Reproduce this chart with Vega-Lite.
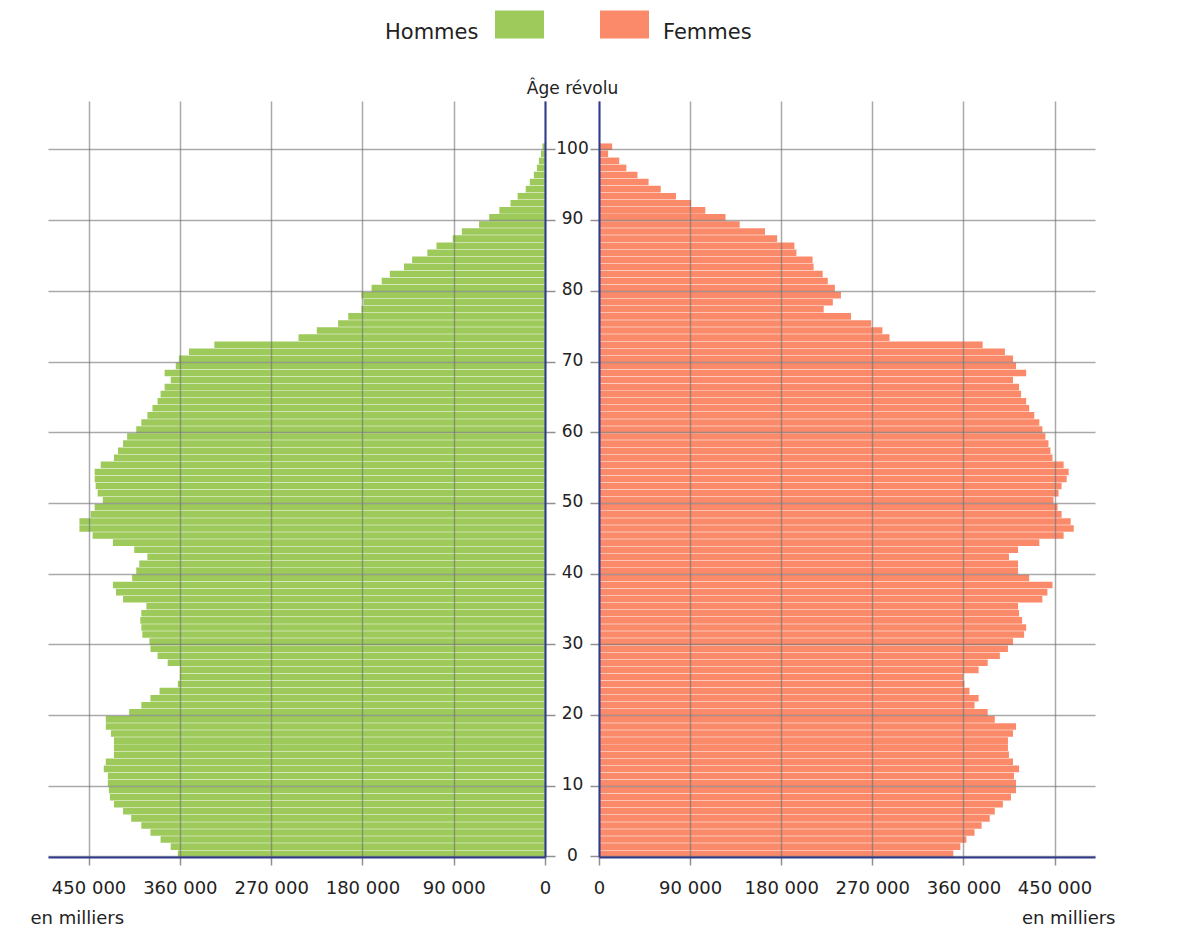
{
  "$schema": "https://vega.github.io/schema/vega-lite/v6.json",
  "background": "white",
  "padding": {"left": 30, "top": 0, "right": 0, "bottom": 0},
  "config": {
    "view": {"stroke": null},
    "font": "DejaVu Sans",
    "axis": {"labelColor": "#222222", "titleColor": "#222222", "labelFont": "DejaVu Sans", "titleFont": "DejaVu Sans"},
    "legend": {"labelColor": "#222222", "titleColor": "#222222", "labelFont": "DejaVu Sans", "titleFont": "DejaVu Sans"}
  },
  "datasets": {
    "hommes": [
      {"age": 0, "pop": 362000}, {"age": 1, "pop": 369000}, {"age": 2, "pop": 379000}, {"age": 3, "pop": 389000}, {"age": 4, "pop": 398000},
      {"age": 5, "pop": 408000}, {"age": 6, "pop": 416000}, {"age": 7, "pop": 425000}, {"age": 8, "pop": 429000}, {"age": 9, "pop": 430000},
      {"age": 10, "pop": 431000}, {"age": 11, "pop": 431000}, {"age": 12, "pop": 435000}, {"age": 13, "pop": 433000}, {"age": 14, "pop": 425000},
      {"age": 15, "pop": 425000}, {"age": 16, "pop": 425000}, {"age": 17, "pop": 428000}, {"age": 18, "pop": 433000}, {"age": 19, "pop": 433000},
      {"age": 20, "pop": 410000}, {"age": 21, "pop": 398000}, {"age": 22, "pop": 389000}, {"age": 23, "pop": 380000}, {"age": 24, "pop": 362000},
      {"age": 25, "pop": 360000}, {"age": 26, "pop": 360000}, {"age": 27, "pop": 372000}, {"age": 28, "pop": 382000}, {"age": 29, "pop": 389000},
      {"age": 30, "pop": 390000}, {"age": 31, "pop": 397000}, {"age": 32, "pop": 398000}, {"age": 33, "pop": 399000}, {"age": 34, "pop": 398000},
      {"age": 35, "pop": 393000}, {"age": 36, "pop": 416000}, {"age": 37, "pop": 423000}, {"age": 38, "pop": 426000}, {"age": 39, "pop": 407000},
      {"age": 40, "pop": 403000}, {"age": 41, "pop": 400000}, {"age": 42, "pop": 392000}, {"age": 43, "pop": 405000}, {"age": 44, "pop": 426000},
      {"age": 45, "pop": 446000}, {"age": 46, "pop": 459000}, {"age": 47, "pop": 459000}, {"age": 48, "pop": 448000}, {"age": 49, "pop": 444000},
      {"age": 50, "pop": 436000}, {"age": 51, "pop": 441000}, {"age": 52, "pop": 443000}, {"age": 53, "pop": 444000}, {"age": 54, "pop": 444000},
      {"age": 55, "pop": 438000}, {"age": 56, "pop": 425000}, {"age": 57, "pop": 421000}, {"age": 58, "pop": 416000}, {"age": 59, "pop": 412000},
      {"age": 60, "pop": 403000}, {"age": 61, "pop": 398000}, {"age": 62, "pop": 392000}, {"age": 63, "pop": 387000}, {"age": 64, "pop": 382000},
      {"age": 65, "pop": 379000}, {"age": 66, "pop": 375000}, {"age": 67, "pop": 369000}, {"age": 68, "pop": 375000}, {"age": 69, "pop": 364000},
      {"age": 70, "pop": 361000}, {"age": 71, "pop": 351000}, {"age": 72, "pop": 326000}, {"age": 73, "pop": 243000}, {"age": 74, "pop": 225000},
      {"age": 75, "pop": 204000}, {"age": 76, "pop": 194000}, {"age": 77, "pop": 181000}, {"age": 78, "pop": 179000}, {"age": 79, "pop": 181000},
      {"age": 80, "pop": 171000}, {"age": 81, "pop": 161000}, {"age": 82, "pop": 153000}, {"age": 83, "pop": 139000}, {"age": 84, "pop": 131000},
      {"age": 85, "pop": 116000}, {"age": 86, "pop": 107000}, {"age": 87, "pop": 91000}, {"age": 88, "pop": 82000}, {"age": 89, "pop": 65000},
      {"age": 90, "pop": 55000}, {"age": 91, "pop": 45000}, {"age": 92, "pop": 34000}, {"age": 93, "pop": 27000}, {"age": 94, "pop": 19000},
      {"age": 95, "pop": 15000}, {"age": 96, "pop": 11000}, {"age": 97, "pop": 8000}, {"age": 98, "pop": 6000}, {"age": 99, "pop": 4000},
      {"age": 100, "pop": 2500}
    ],
    "femmes": [
      {"age": 0, "pop": 350000}, {"age": 1, "pop": 357000}, {"age": 2, "pop": 363000}, {"age": 3, "pop": 371000}, {"age": 4, "pop": 378000},
      {"age": 5, "pop": 386000}, {"age": 6, "pop": 391000}, {"age": 7, "pop": 399000}, {"age": 8, "pop": 407000}, {"age": 9, "pop": 412000},
      {"age": 10, "pop": 412000}, {"age": 11, "pop": 410000}, {"age": 12, "pop": 415000}, {"age": 13, "pop": 409000}, {"age": 14, "pop": 405000},
      {"age": 15, "pop": 404000}, {"age": 16, "pop": 404000}, {"age": 17, "pop": 409000}, {"age": 18, "pop": 412000}, {"age": 19, "pop": 391000},
      {"age": 20, "pop": 384000}, {"age": 21, "pop": 371000}, {"age": 22, "pop": 375000}, {"age": 23, "pop": 366000}, {"age": 24, "pop": 361000},
      {"age": 25, "pop": 360000}, {"age": 26, "pop": 375000}, {"age": 27, "pop": 384000}, {"age": 28, "pop": 396000}, {"age": 29, "pop": 404000},
      {"age": 30, "pop": 409000}, {"age": 31, "pop": 420000}, {"age": 32, "pop": 422000}, {"age": 33, "pop": 418000}, {"age": 34, "pop": 415000},
      {"age": 35, "pop": 414000}, {"age": 36, "pop": 438000}, {"age": 37, "pop": 443000}, {"age": 38, "pop": 448000}, {"age": 39, "pop": 425000},
      {"age": 40, "pop": 414000}, {"age": 41, "pop": 414000}, {"age": 42, "pop": 405000}, {"age": 43, "pop": 414000}, {"age": 44, "pop": 435000},
      {"age": 45, "pop": 459000}, {"age": 46, "pop": 469000}, {"age": 47, "pop": 466000}, {"age": 48, "pop": 457000}, {"age": 49, "pop": 453000},
      {"age": 50, "pop": 449000}, {"age": 51, "pop": 454000}, {"age": 52, "pop": 457000}, {"age": 53, "pop": 462000}, {"age": 54, "pop": 464000},
      {"age": 55, "pop": 459000}, {"age": 56, "pop": 448000}, {"age": 57, "pop": 446000}, {"age": 58, "pop": 444000}, {"age": 59, "pop": 441000},
      {"age": 60, "pop": 438000}, {"age": 61, "pop": 435000}, {"age": 62, "pop": 430000}, {"age": 63, "pop": 425000}, {"age": 64, "pop": 422000},
      {"age": 65, "pop": 417000}, {"age": 66, "pop": 415000}, {"age": 67, "pop": 409000}, {"age": 68, "pop": 422000}, {"age": 69, "pop": 412000},
      {"age": 70, "pop": 409000}, {"age": 71, "pop": 401000}, {"age": 72, "pop": 379000}, {"age": 73, "pop": 287000}, {"age": 74, "pop": 280000},
      {"age": 75, "pop": 269000}, {"age": 76, "pop": 249000}, {"age": 77, "pop": 222000}, {"age": 78, "pop": 231000}, {"age": 79, "pop": 239000},
      {"age": 80, "pop": 233000}, {"age": 81, "pop": 226000}, {"age": 82, "pop": 221000}, {"age": 83, "pop": 212000}, {"age": 84, "pop": 211000},
      {"age": 85, "pop": 195000}, {"age": 86, "pop": 193000}, {"age": 87, "pop": 176000}, {"age": 88, "pop": 164000}, {"age": 89, "pop": 139000},
      {"age": 90, "pop": 125000}, {"age": 91, "pop": 105000}, {"age": 92, "pop": 91000}, {"age": 93, "pop": 76000}, {"age": 94, "pop": 61000},
      {"age": 95, "pop": 49000}, {"age": 96, "pop": 38000}, {"age": 97, "pop": 27000}, {"age": 98, "pop": 20000}, {"age": 99, "pop": 9000},
      {"age": 100, "pop": 13000}
    ]
  },
  "bounds": "flush",
  "spacing": 54,
  "resolve": {"scale": {"color": "independent", "x": "independent", "y": "independent"}, "legend": {"color": "independent"}},
  "hconcat": [
    {
      "width": 497,
      "height": 756,
      "data": {"name": "hommes"},
      "mark": {"type": "bar"},
      "encoding": {
        "y": {
          "field": "age", "type": "ordinal",
          "scale": {"domain": [106,105,104,103,102,101,100,99,98,97,96,95,94,93,92,91,90,89,88,87,86,85,84,83,82,81,80,79,78,77,76,75,74,73,72,71,70,69,68,67,66,65,64,63,62,61,60,59,58,57,56,55,54,53,52,51,50,49,48,47,46,45,44,43,42,41,40,39,38,37,36,35,34,33,32,31,30,29,28,27,26,25,24,23,22,21,20,19,18,17,16,15,14,13,12,11,10,9,8,7,6,5,4,3,2,1,0], "paddingInner": 0.07, "paddingOuter": 0},
          "axis": {
            "orient": "right", "values": [0,10,20,30,40,50,60,70,80,90,100], "bandPosition": 1,
            "grid": true, "gridColor": "#707070", "gridOpacity": 0.6, "gridWidth": 1.5,
            "ticks": true, "tickSize": 10, "tickColor": "#909090", "tickWidth": 1.5,
            "labelAlign": "center", "labelPadding": 17, "labelFontSize": 17, "labelAngle": 0, "labelOffset": 2,
            "domain": true, "domainColor": "#2e3b8c", "domainWidth": 2,
            "title": "Âge révolu", "titleAngle": 0, "titleX": 27, "titleY": -8, "titleAlign": "center", "titleBaseline": "alphabetic",
            "titleFontWeight": "normal", "titleFontSize": 17, "zindex": 1
          }
        },
        "x": {
          "field": "pop", "type": "quantitative",
          "scale": {"domain": [0, 490000], "reverse": true, "nice": false, "zero": true},
          "axis": {
            "values": [0, 90000, 180000, 270000, 360000, 450000],
            "labelExpr": "replace(format(datum.value, ','), ',', ' ')",
            "grid": true, "gridColor": "#707070", "gridOpacity": 0.6, "gridWidth": 1.5,
            "tickSize": 8, "tickColor": "#909090", "tickWidth": 1.5,
            "labelPadding": 14, "labelFontSize": 18, "labelFlush": false,
            "domainColor": "#2e3b8c", "domainWidth": 2,
            "title": "en milliers", "titleX": -18, "titleY": 61, "titleAlign": "left", "titleAnchor": "start", "titleBaseline": "middle",
            "titleFontWeight": "normal", "titleFontSize": 18, "zindex": 1
          }
        },
        "color": {
          "datum": "Hommes", "type": "nominal",
          "scale": {"domain": ["Hommes"], "range": ["#9dca5b"]},
          "legend": {
            "orient": "none", "legendX": 337, "legendY": -101,
            "title": "Hommes", "titleOrient": "left", "titleFontSize": 21, "titleFontWeight": "normal", "titlePadding": 16,
            "titleBaseline": "line-top", "titleLineHeight": 28,
            "labelExpr": "''", "labelOffset": 0,
            "symbolType": "M-1,-0.57H1V0.57H-1Z", "symbolSize": 2401, "symbolStrokeWidth": 0, "symbolOpacity": 1
          }
        }
      }
    },
    {
      "width": 496,
      "height": 756,
      "data": {"name": "femmes"},
      "mark": {"type": "bar"},
      "encoding": {
        "y": {
          "field": "age", "type": "ordinal",
          "scale": {"domain": [106,105,104,103,102,101,100,99,98,97,96,95,94,93,92,91,90,89,88,87,86,85,84,83,82,81,80,79,78,77,76,75,74,73,72,71,70,69,68,67,66,65,64,63,62,61,60,59,58,57,56,55,54,53,52,51,50,49,48,47,46,45,44,43,42,41,40,39,38,37,36,35,34,33,32,31,30,29,28,27,26,25,24,23,22,21,20,19,18,17,16,15,14,13,12,11,10,9,8,7,6,5,4,3,2,1,0], "paddingInner": 0.07, "paddingOuter": 0},
          "axis": {
            "orient": "left", "values": [0,10,20,30,40,50,60,70,80,90,100], "bandPosition": 1,
            "grid": true, "gridColor": "#707070", "gridOpacity": 0.6, "gridWidth": 1.5,
            "ticks": true, "tickSize": 9, "tickColor": "#909090", "tickWidth": 1.5,
            "labels": false,
            "domain": true, "domainColor": "#2e3b8c", "domainWidth": 2,
            "title": null, "zindex": 1
          }
        },
        "x": {
          "field": "pop", "type": "quantitative",
          "scale": {"domain": [0, 490000], "nice": false, "zero": true},
          "axis": {
            "values": [0, 90000, 180000, 270000, 360000, 450000],
            "labelExpr": "replace(format(datum.value, ','), ',', ' ')",
            "grid": true, "gridColor": "#707070", "gridOpacity": 0.6, "gridWidth": 1.5,
            "tickSize": 8, "tickColor": "#909090", "tickWidth": 1.5,
            "labelPadding": 14, "labelFontSize": 18, "labelFlush": false,
            "domainColor": "#2e3b8c", "domainWidth": 2,
            "title": "en milliers", "titleX": 516, "titleY": 61, "titleAlign": "right", "titleAnchor": "end", "titleBaseline": "middle",
            "titleFontWeight": "normal", "titleFontSize": 18, "zindex": 1
          }
        },
        "color": {
          "datum": "Femmes", "type": "nominal",
          "scale": {"domain": ["Femmes"], "range": ["#fb8a6b"]},
          "legend": {
            "orient": "none", "legendX": 1, "legendY": -101,
            "title": "Femmes", "titleOrient": "right", "titleFontSize": 21, "titleFontWeight": "normal", "titlePadding": 14,
            "titleBaseline": "line-top", "titleLineHeight": 28,
            "labelExpr": "''", "labelOffset": 0,
            "symbolType": "M-1,-0.57H1V0.57H-1Z", "symbolSize": 2401, "symbolStrokeWidth": 0, "symbolOpacity": 1
          }
        }
      }
    }
  ]
}
